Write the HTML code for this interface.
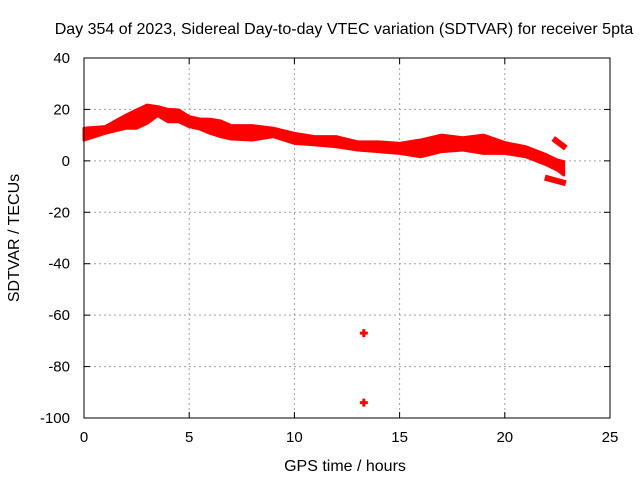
<!DOCTYPE html>
<html><head><meta charset="utf-8"><style>
body{margin:0;background:#fff;}
svg{display:block;font-family:"Liberation Sans",sans-serif;}
</style></head><body>
<svg id="chart" width="640" height="480">
<text x="344" y="34" font-size="16" text-anchor="middle">Day 354 of 2023, Sidereal Day-to-day VTEC variation (SDTVAR) for receiver 5pta</text>
<text x="345" y="471" font-size="16" text-anchor="middle">GPS time / hours</text>
<text transform="translate(19,238) rotate(-90)" font-size="16" text-anchor="middle">SDTVAR / TECUs</text>
<g id="grid"></g><g id="ticks"></g><g id="marks"></g>
<rect x="84" y="58" width="526" height="360" fill="none" stroke="#000" stroke-width="1"/>
</svg>
<script>
const xTicks=[0,5,10,15,20,25];
const yTicks=[40,20,0,-20,-40,-60,-80,-100];
const hours=[0,1,2,2.5,3,3.5,4,4.5,5,5.5,6,6.5,7,8,9,10,11,12,13,14,15,16,17,18,19,20,21,22,22.5,22.8];
const upper=[12.7,13.3,17.8,19.8,21.7,21.1,20.0,19.8,17.2,16.3,16.2,15.5,13.7,13.7,12.7,10.7,9.4,9.4,7.4,7.4,6.8,8.1,10.0,9.0,10.0,7.1,5.5,2.3,0.3,-0.3];
const lower=[8.1,10.7,12.7,12.7,14.6,17.6,15.2,15.2,13.3,12.4,10.7,9.4,8.5,8.1,9.4,6.8,6.2,5.5,4.2,3.6,2.9,1.6,3.6,4.2,2.9,2.9,1.6,-1.6,-3.6,-5.5];
const branchHours=[22.3,22.9];
const branchUpper=[8.7,5.0];
const branchLowerHours=[21.9,22.9];
const branchLowerVals=[-6.5,-8.7];
const outlierHours=[13.3,13.3];
const outlierVals=[-67,-94];
const X=h=>84+h*526/25, Y=v=>58+(40-v)*360/140;
const NS="http://www.w3.org/2000/svg";
function mk(t,a,p){const e=document.createElementNS(NS,t);for(const k in a)e.setAttribute(k,a[k]);document.getElementById(p).appendChild(e);return e;}
xTicks.forEach(t=>{
 if(t>0&&t<25){const g=mk('line',{x1:X(t),x2:X(t),y1:58,y2:418,stroke:'#a0a0a0','stroke-dasharray':'2,3'},'grid');
 
 }
 const l=mk('text',{x:X(t),y:442,'font-size':15,'text-anchor':'middle'},'ticks');l.textContent=t;
 
 
 mk('line',{x1:X(t),x2:X(t),y1:418,y2:412,stroke:'#000'},'ticks');mk('line',{x1:X(t),x2:X(t),y1:58,y2:64,stroke:'#000'},'ticks');
});
yTicks.forEach(t=>{
 if(t<40&&t>-100){const g=mk('line',{x1:84,x2:610,y1:Y(t),y2:Y(t),stroke:'#a0a0a0','stroke-dasharray':'2,3'},'grid');
 
 }
 const l=mk('text',{x:70,y:Y(t)+5,'font-size':15,'text-anchor':'end'},'ticks');l.textContent=t;
 
 
 mk('line',{x1:84,x2:90,y1:Y(t),y2:Y(t),stroke:'#000'},'ticks');mk('line',{x1:610,x2:604,y1:Y(t),y2:Y(t),stroke:'#000'},'ticks');
});
let pts=hours.map((h,i)=>X(h)+','+Y(upper[i]));
for(let i=hours.length-1;i>=0;i--)pts.push(X(hours[i])+','+Y(lower[i]));
const band=mk('polygon',{points:pts.join(' '),fill:'#ff0000',stroke:'#ff0000','stroke-width':3,'stroke-linejoin':'round'},'marks');


const b1=mk('line',{x1:X(branchHours[0]),y1:Y(branchUpper[0]),x2:X(branchHours[1]),y2:Y(branchUpper[1]),stroke:'#ff0000','stroke-width':6},'marks');


const b2=mk('line',{x1:X(branchLowerHours[0]),y1:Y(branchLowerVals[0]),x2:X(branchLowerHours[1]),y2:Y(branchLowerVals[1]),stroke:'#ff0000','stroke-width':6},'marks');


outlierHours.forEach((h,i)=>{
 const x=X(h),y=Y(outlierVals[i]);
 const p=mk('path',{d:`M${x-4},${y}H${x+4}M${x},${y-4}V${y+4}`,stroke:'#ff0000','stroke-width':3},'marks');
 
 
});
</script>
</body></html>
